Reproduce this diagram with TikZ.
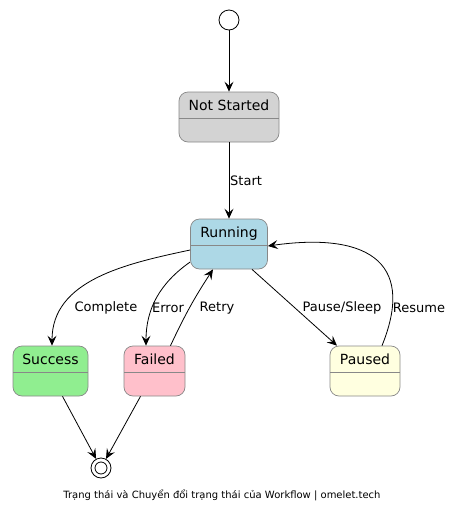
\documentclass[tikz,border=0pt]{standalone}
\usepackage{fontspec}
\setmainfont{DejaVu Sans}
\usetikzlibrary{arrows.meta,positioning,calc}

\definecolor{nsgray}{HTML}{D3D3D3}
\definecolor{runblue}{HTML}{ADD8E6}
\definecolor{sucgreen}{HTML}{90EE90}
\definecolor{failpink}{HTML}{FFC0CB}
\definecolor{pauyellow}{HTML}{FFFFE0}
\definecolor{edgegray}{HTML}{888888}

\tikzset{
  statebox/.style={draw=edgegray, line width=0.7pt, rounded corners=9pt,
    minimum height=50pt, inner xsep=4pt, inner ysep=6pt,
    text height=12pt, text depth=26pt, font=\fontsize{14}{16}\selectfont,
    path picture={\draw[edgegray, line width=0.7pt]
      ([yshift=-26pt]path picture bounding box.north west) --
      ([yshift=-26pt]path picture bounding box.north east);}},
  arr/.style={-{Stealth[length=10pt,width=9pt,inset=4pt]}, line width=0.8pt},
  lbl/.style={font=\fontsize{13}{15}\selectfont, inner sep=1pt}
}

\begin{document}
\begin{tikzpicture}[x=1pt, y=1pt]
            \useasboundingbox (0,0) rectangle (452,-512);
            % Start and end points
            \node[draw, circle, minimum size=20pt, inner sep=0pt, line width=0.8pt] (init) at (229,-20) {};
            \node[draw, circle, minimum size=20pt, inner sep=0pt, line width=0.8pt] (fin) at (101,-468) {};
            \node[draw, circle, minimum size=12pt, inner sep=0pt, line width=0.8pt] (finin) at (fin) {};
            % States
            \node[statebox, fill=nsgray, minimum width=100pt] (ns) at (229,-117) {Not Started};
            \node[statebox, fill=runblue, minimum width=77pt] (run) at (229,-244) {Running};
            \node[statebox, fill=sucgreen, minimum width=75pt] (suc) at (50.5,-371) {Success};
            \node[statebox, fill=failpink, minimum width=61pt] (fail) at (154.5,-371) {Failed};
            \node[statebox, fill=pauyellow, minimum width=70pt] (pau) at (365,-371) {Paused};

            \draw[arr] (init) -- (ns);
            \draw[arr] (ns) -- (run);
            \draw[arr] ([yshift=-6pt]run.west) to[out=192, in=90] ([xshift=1.5pt]suc.north);
            \draw[arr] ([yshift=-18pt]run.west) to[out=215, in=90] ([xshift=-8.5pt]fail.north);
            \draw[arr] ([xshift=16pt]fail.north) to[bend left=4] ([xshift=-16pt]run.south);
            \draw[arr] ([xshift=23pt]run.south) -- ([xshift=-28pt]pau.north);
            \draw[arr] ([xshift=17pt]pau.north) to[out=68, in=8, looseness=1.6] ([yshift=-2pt]run.east);
            \draw[arr] ([xshift=12pt]suc.south) -- (fin);
            \draw[arr] ([xshift=-14pt]fail.south) -- (fin);

            % Labels on the transitions
            \node[lbl, anchor=west] (lstart) at (229,-181) {Start};
            \node[lbl] (lcomplete) at (106,-308) {Complete};
            \node[lbl] (lerror) at (168,-308) {Error};
            \node[lbl] (lretry) at (217,-308) {Retry};
            \node[lbl] (lpause) at (342,-308) {Pause/Sleep};
            \node[lbl] (lresume) at (419,-308) {Resume};

            % Caption
            \node[font=\fontsize{10}{12}\selectfont] (cap) at (222,-495) {Trạng thái và Chuyển đổi trạng thái của Workflow | omelet.tech};
        \end{tikzpicture}
\end{document}
